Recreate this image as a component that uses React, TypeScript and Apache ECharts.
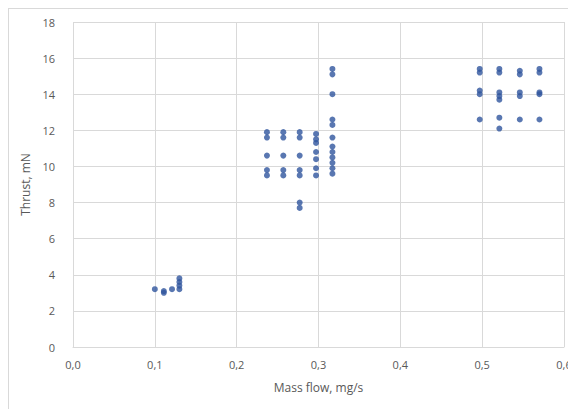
import React, { useEffect, useRef } from "react";
import * as echarts from "echarts";

// Mass flow (mg/s) and thrust (mN) pairs
const massFlow: number[] = [
  0.100, 0.111, 0.111, 0.121, 0.130, 0.130, 0.130, 0.130,
  0.237, 0.237, 0.237, 0.237, 0.237,
  0.257, 0.257, 0.257, 0.257, 0.257,
  0.277, 0.277, 0.277, 0.277, 0.277, 0.277, 0.277,
  0.297, 0.297, 0.297, 0.297, 0.297, 0.297, 0.297,
  0.317, 0.317, 0.317, 0.317, 0.317, 0.317, 0.317, 0.317, 0.317, 0.317, 0.317, 0.317,
  0.497, 0.497, 0.497, 0.497, 0.497,
  0.521, 0.521, 0.521, 0.521, 0.521, 0.521, 0.521,
  0.546, 0.546, 0.546, 0.546, 0.546,
  0.570, 0.570, 0.570, 0.570, 0.570,
];
const thrust: number[] = [
  3.2, 3.1, 3.0, 3.2, 3.2, 3.4, 3.6, 3.8,
  11.9, 11.6, 10.6, 9.8, 9.5,
  11.9, 11.6, 10.6, 9.8, 9.5,
  11.9, 11.6, 10.6, 9.8, 9.5, 8.0, 7.7,
  11.8, 11.5, 11.3, 10.8, 10.4, 9.9, 9.5,
  15.4, 15.1, 14.0, 12.6, 12.3, 11.6, 11.1, 10.8, 10.5, 10.2, 9.9, 9.6,
  15.4, 15.2, 14.2, 14.0, 12.6,
  15.4, 15.2, 14.1, 13.9, 13.7, 12.7, 12.1,
  15.3, 15.1, 14.1, 13.9, 12.6,
  15.4, 15.2, 14.1, 14.0, 12.6,
];
const xTitle = "Mass flow, mg/s";
const yTitle = "Thrust, mN";

export default function App() {
  const ref = useRef<HTMLDivElement>(null);
  useEffect(() => {
    if (!ref.current) return;
    const chart = echarts.init(ref.current, undefined, { renderer: "svg" });
    const font = "'Open Sans', 'Noto Sans', sans-serif";
    chart.setOption({
      animation: false,
      backgroundColor: "#ffffff",
      grid: { left: 64, top: 13, width: 491, height: 325, containLabel: false },
      xAxis: {
        type: "value",
        min: 0,
        max: 0.6,
        interval: 0.1,
        name: xTitle,
        nameLocation: "middle",
        nameGap: 34,
        nameTextStyle: { color: "#595959", fontSize: 12, fontFamily: font },
        axisLine: { show: true, lineStyle: { color: "#d9d9d9" } },
        axisTick: { show: false },
        axisLabel: {
          color: "#595959",
          fontSize: 11,
          fontFamily: font,
          margin: 12,
          formatter: (v: number) => v.toFixed(1).replace(".", ","),
        },
        splitLine: { show: true, lineStyle: { color: "#d9d9d9" } },
      },
      yAxis: {
        type: "value",
        min: 0,
        max: 18,
        interval: 2,
        name: yTitle,
        nameLocation: "middle",
        nameGap: 35,
        nameTextStyle: { color: "#595959", fontSize: 12, fontFamily: font },
        axisLine: { show: false },
        axisTick: { show: false },
        axisLabel: { color: "#595959", fontSize: 11, fontFamily: font, margin: 18 },
        splitLine: { show: true, lineStyle: { color: "#d9d9d9" } },
      },
      series: [
        {
          type: "scatter",
          symbol: "circle",
          symbolSize: 6,
          itemStyle: { color: "#2f559e" },
          data: massFlow.map((x, i) => [x, thrust[i]]),
        },
      ],
    });
    return () => chart.dispose();
  }, []);
  return (
    <div
      ref={ref}
      style={{
        width: 590,
        height: 420,
        border: "1px solid #d9d9d9",
        boxSizing: "border-box",
      }}
    />
  );
}
